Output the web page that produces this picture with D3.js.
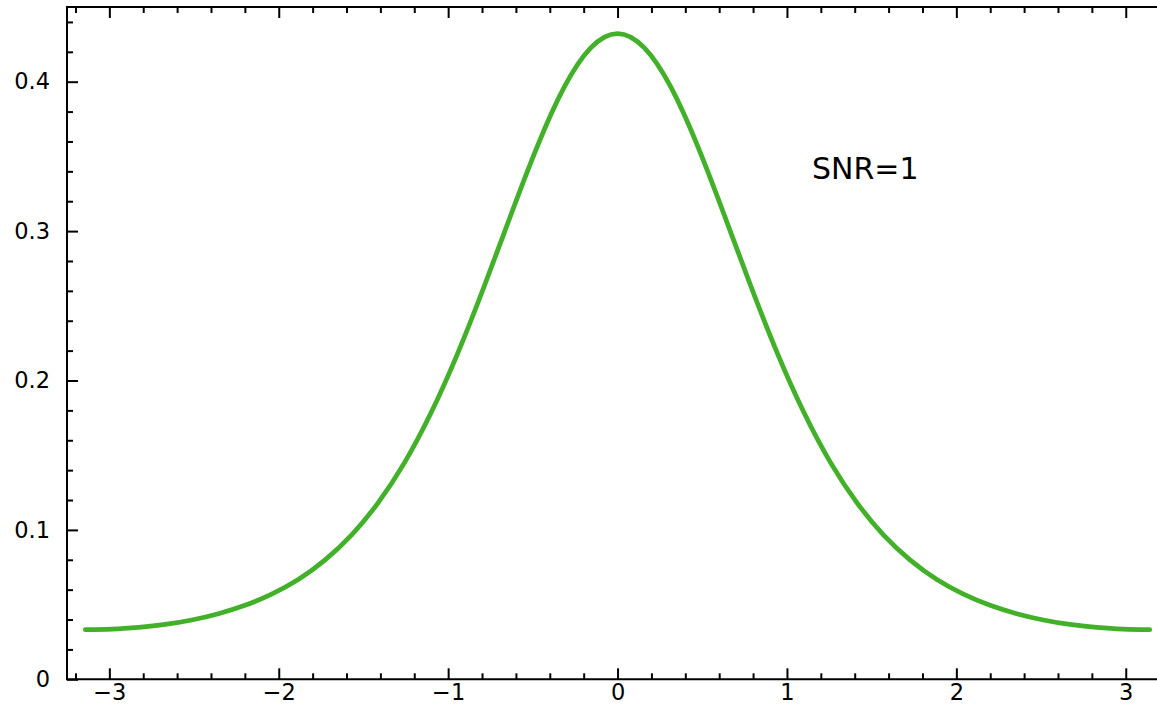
<!DOCTYPE html>
<html>
<head>
<meta charset="utf-8">
<script src="https://cdn.jsdelivr.net/npm/d3@7"></script>
<style>
  html, body { margin: 0; padding: 0; background: #fff; }
  svg { display: block; }
  text { font-family: "DejaVu Sans", sans-serif; fill: #000; }
</style>
</head>
<body>
<svg id="chart" width="1157" height="715"></svg>
<script>
// Phase (radians) from -pi to pi, and the probability density at each phase
const phase = [
  -3.1416, -2.9845, -2.8274, -2.6704, -2.5133, -2.3562, -2.1991, -2.0420, -1.8850, -1.7279,
  -1.5708, -1.4137, -1.2566, -1.0996, -0.9425, -0.7854, -0.6283, -0.4712, -0.3142, -0.1571,
   0.0000,
   0.1571,  0.3142,  0.4712,  0.6283,  0.7854,  0.9425,  1.0996,  1.2566,  1.4137,  1.5708,
   1.7279,  1.8850,  2.0420,  2.1991,  2.3562,  2.5133,  2.6704,  2.8274,  2.9845,  3.1416
];
const density = [
  0.0332, 0.0336, 0.0348, 0.0367, 0.0397, 0.0439, 0.0495, 0.0570, 0.0668, 0.0798,
  0.0965, 0.1181, 0.1452, 0.1787, 0.2185, 0.2636, 0.3113, 0.3574, 0.3965, 0.4228,
  0.4322,
  0.4228, 0.3965, 0.3574, 0.3113, 0.2636, 0.2185, 0.1787, 0.1452, 0.1181, 0.0965,
  0.0798, 0.0668, 0.0570, 0.0495, 0.0439, 0.0397, 0.0367, 0.0348, 0.0336, 0.0332
];

const xMajorTicks = [-3, -2, -1, 0, 1, 2, 3];
const xTickLabels = ["\u22123", "\u22122", "\u22121", "0", "1", "2", "3"];
const yMajorTicks = [0, 0.1, 0.2, 0.3, 0.4];
const yTickLabels = ["0", "0.1", "0.2", "0.3", "0.4"];
const annotation = "SNR=1";

const svg = d3.select("#chart");
const plotLeft = 67, plotTop = 7, plotBottom = 679.3;
const unit = 169.4;

const x = d3.scaleLinear().domain([-3.25, 3.25]).range([plotLeft, plotLeft + 6.5 * unit]);
const y = d3.scaleLinear().domain([0, 0.45]).range([plotBottom, plotTop]);

const xMinor = d3.range(-32, 33, 2).map(v => v / 10).filter(v => Math.abs(v - Math.round(v)) > 1e-6);
const yMinor = d3.range(2, 45, 2).map(v => v / 100).filter(v => Math.abs(v * 10 - Math.round(v * 10)) > 1e-6);

function styleAxis(g) {
  g.select(".domain").remove();
  g.selectAll(".tick line").attr("stroke", "#000").attr("stroke-width", 2);
  g.selectAll("text").style("font-family", "DejaVu Sans, sans-serif").style("font-size", "22.5px").attr("fill", "#000");
}

// bottom axis: major with labels, minor without
svg.append("g").attr("transform", `translate(0,${plotBottom})`)
  .call(d3.axisBottom(x).tickValues(xMajorTicks).tickSize(-11).tickSizeOuter(0).tickPadding(5)
    .tickFormat((d, i) => xTickLabels[i]))
  .call(styleAxis);
svg.append("g").attr("transform", `translate(0,${plotBottom})`)
  .call(d3.axisBottom(x).tickValues(xMinor).tickSize(-6).tickSizeOuter(0).tickFormat(""))
  .call(styleAxis);

// top axis: ticks only
svg.append("g").attr("transform", `translate(0,${plotTop})`)
  .call(d3.axisTop(x).tickValues(xMajorTicks).tickSize(-11).tickSizeOuter(0).tickFormat(""))
  .call(styleAxis);
svg.append("g").attr("transform", `translate(0,${plotTop})`)
  .call(d3.axisTop(x).tickValues(xMinor).tickSize(-6).tickSizeOuter(0).tickFormat(""))
  .call(styleAxis);

// left axis
svg.append("g").attr("transform", `translate(${plotLeft},0)`)
  .call(d3.axisLeft(y).tickValues(yMajorTicks).tickSize(-11).tickSizeOuter(0).tickPadding(17)
    .tickFormat((d, i) => yTickLabels[i]))
  .call(styleAxis);
svg.append("g").attr("transform", `translate(${plotLeft},0)`)
  .call(d3.axisLeft(y).tickValues(yMinor).tickSize(-6).tickSizeOuter(0).tickFormat(""))
  .call(styleAxis);

// frame lines
const xr = x.range();
svg.append("path")
  .attr("d", `M${xr[1]},${plotTop}H${xr[0]}V${plotBottom}H${xr[1]}`)
  .attr("fill", "none").attr("stroke", "#000").attr("stroke-width", 2);

// density curve
const line = d3.line()
  .x((d, i) => x(phase[i]))
  .y(d => y(d))
  .curve(d3.curveNatural);
svg.append("path")
  .datum(density)
  .attr("d", line)
  .attr("fill", "none")
  .attr("stroke", "#43b02a")
  .attr("stroke-width", 4.8)
  .attr("stroke-linecap", "round")
  .attr("stroke-linejoin", "round");

svg.append("text")
  .attr("x", 812)
  .attr("y", 179)
  .style("font-size", "30px")
  .text(annotation);
</script>
</body>
</html>
